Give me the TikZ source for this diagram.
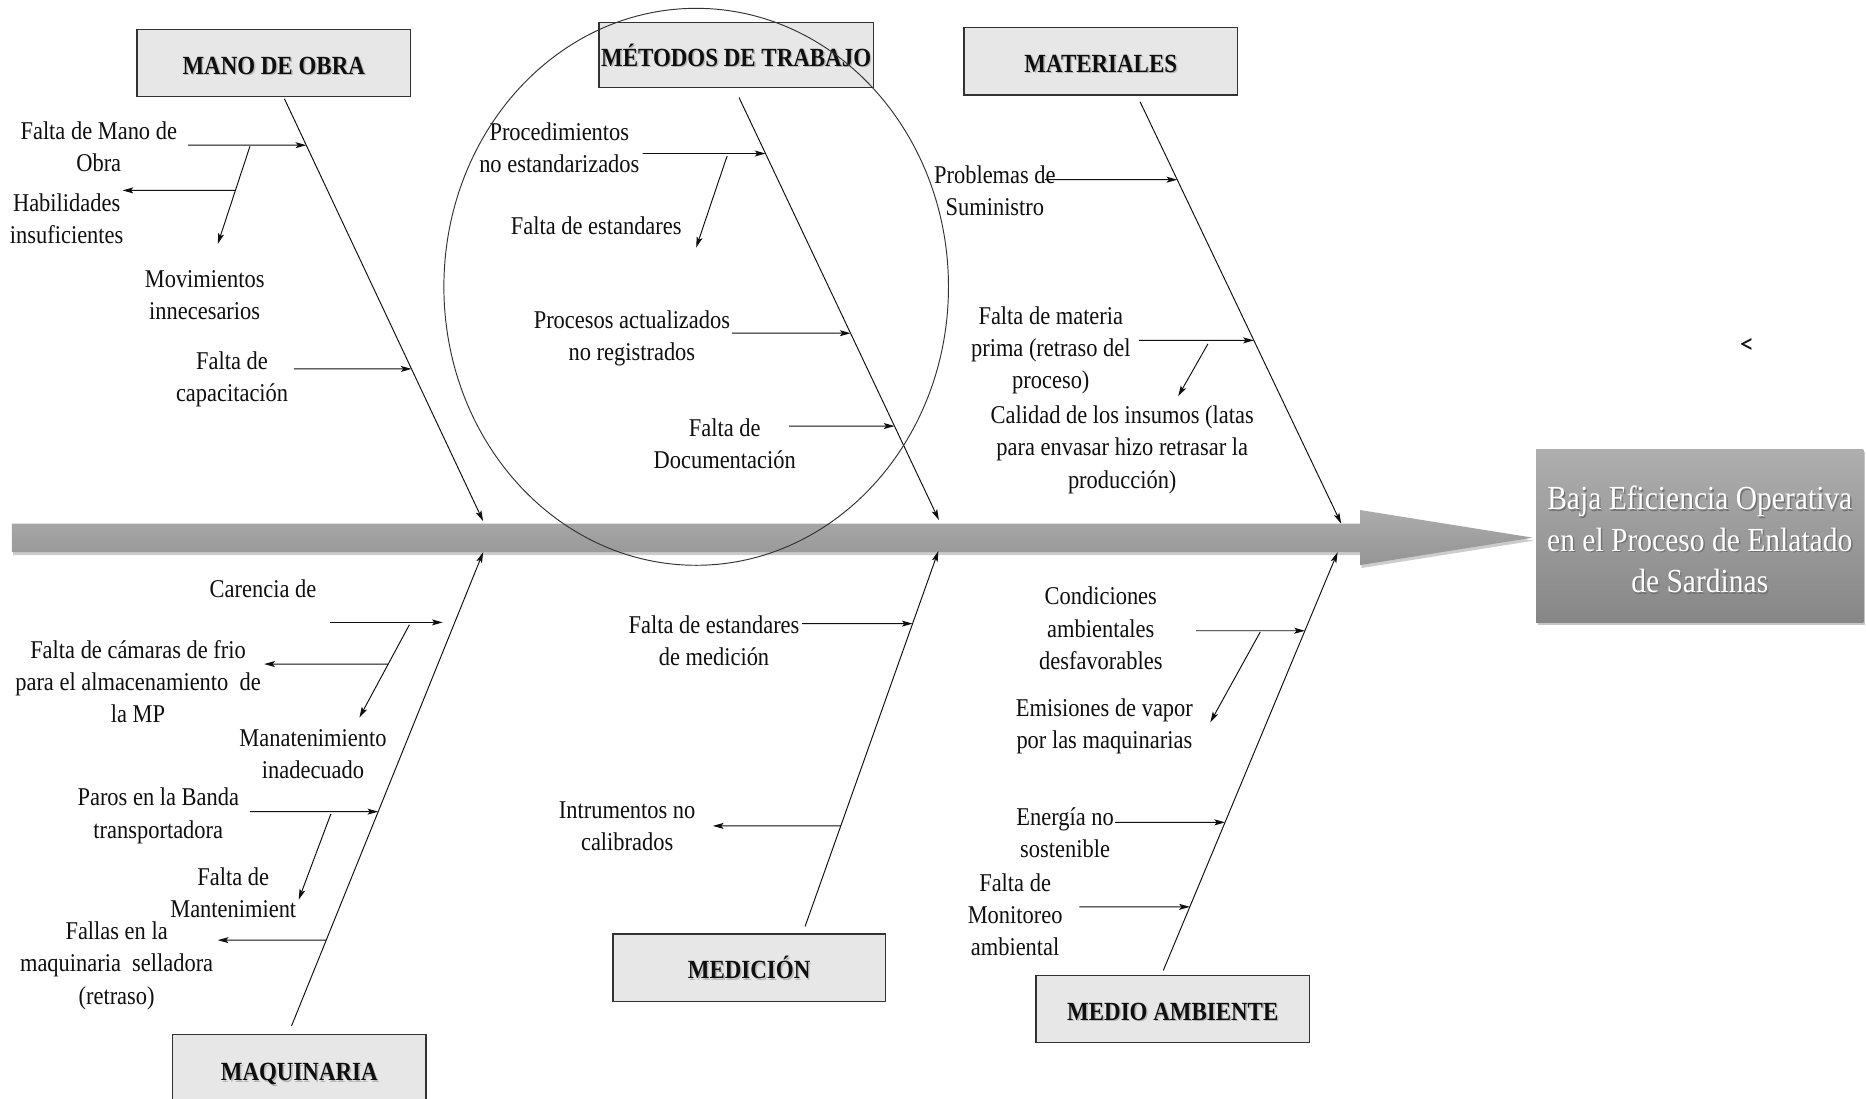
\documentclass[tikz,border=0pt]{standalone}
\usepackage{fontspec}
\setmainfont{Liberation Serif}[FakeStretch=0.877]
\newfontfamily\markfont{Carlito}
\usetikzlibrary{arrows.meta,shadows}

\definecolor{boxgray}{RGB}{231,231,231}
\definecolor{boxedge}{RGB}{50,50,50}
\definecolor{spinetop}{RGB}{172,172,172}
\definecolor{spinebot}{RGB}{148,148,148}
\definecolor{efftop}{RGB}{174,174,174}
\definecolor{effbot}{RGB}{134,134,134}
\definecolor{ink}{RGB}{15,15,15}

% text with a soft offset shadow behind it
\newcommand{\shd}[2]{\leavevmode\rlap{\hspace{1.2pt}\raisebox{-1.2pt}{\textcolor{#1}{#2}}}#2}
% category caption
\newcommand{\headtxt}[1]{\shd{black!28}{#1}}

\begin{document}
\begin{tikzpicture}[x=1pt,y=-1pt,
  cause/.style={draw=boxedge, line width=1.1pt, fill=boxgray, inner sep=0pt,
    minimum width=230pt, minimum height=56pt, text height=18.6pt, text depth=0pt,
    font=\fontsize{22}{26}\selectfont\bfseries, text=ink},
  effect/.style={shading=axis, top color=efftop, bottom color=effbot,
    inner sep=0pt, minimum width=275pt, minimum height=145pt,
    drop shadow={shadow xshift=1.5pt, shadow yshift=-2pt, opacity=0.45}},
  efftext/.style={align=center, inner sep=0pt, text=white,
    font=\fontsize{28.3}{35}\selectfont},
  lbl/.style={align=center, inner sep=0pt, text=ink, yshift=-2pt,
    font=\fontsize{21.5}{27}\selectfont},
  bone/.style={draw=ink, line width=0.8pt,
    -{Stealth[length=9pt,width=5pt,inset=2pt]}},
  twig/.style={bone},
  ring/.style={draw=ink!85, line width=0.8pt},
]
\useasboundingbox[fill=white] (0,0) rectangle (1568,923);

% main spine arrow
\path[shading=axis, top color=spinetop, bottom color=spinebot,
  drop shadow={shadow xshift=1pt, shadow yshift=-2.5pt, opacity=0.4}]
  (10,440) -- (1143,440) -- (1143,428.6) -- (1288,451.8)
  -- (1143,474.8) -- (1143,464) -- (10,464) -- cycle;

% effect box and its caption
\node[effect] (efecto) at (1428.3,450.6) {};
\node[efftext] (efectoTxt) at (1428.3,454)
  {\shd{black!55}{Baja Eficiencia Operativa}\\
   \shd{black!55}{en el Proceso de Enlatado}\\
   \shd{black!55}{de Sardinas}};

% category boxes
\node[cause] (mano) at (230,53) {\headtxt{MANO DE OBRA}};
\node[cause, minimum width=230.5pt, minimum height=54.6pt] (metodos) at (618.6,46.4)
  {\headtxt{MÉTODOS DE TRABAJO}};
\node[cause, minimum height=56.7pt] (materiales) at (925,51.5) {\headtxt{MATERIALES}};
\node[cause, minimum width=213pt, minimum height=60pt] (maquinaria) at (251.5,899)
  {\headtxt{MAQUINARIA}};
\node[cause, minimum width=229pt, minimum height=56.7pt] (medicion) at (629.5,813.3)
  {\headtxt{MEDICIÓN}};
\node[cause, minimum height=56.3pt] (medio) at (985.5,848)
  {\headtxt{MEDIO AMBIENTE}};

% bones
\coordinate (moA) at (239,83);      \coordinate (moB) at (406,438);
\coordinate (mtA) at (621,82);      \coordinate (mtB) at (789,437);
\coordinate (maA) at (958,85.5);    \coordinate (maB) at (1127,440);
\coordinate (mqA) at (245,862);     \coordinate (mqB) at (406,464);
\coordinate (meA) at (676.5,778.5); \coordinate (meB) at (788.5,463);
\coordinate (amA) at (977.5,815.5); \coordinate (amB) at (1124,464);
\foreach \a/\b in {moA/moB, mtA/mtB, maA/maB, mqA/mqB, meA/meB, amA/amB}
  \draw[bone] (\a) -- (\b);

% ---- Mano de obra
\coordinate (fmoS) at (158,122);
\coordinate (fmoE) at (intersection of moA--moB and 0,122--1,122);
\coordinate (movS) at (210,123);
\coordinate (movE) at (183,205);
\coordinate (habS) at (intersection of movS--movE and 0,160--1,160);
\coordinate (habE) at (103,160);
\coordinate (capS) at (247,310);
\coordinate (capE) at (intersection of moA--moB and 0,310--1,310);
\draw[twig] (fmoS) -- (fmoE);
\draw[twig] (movS) -- (movE);
\draw[twig] (habS) -- (habE);
\draw[twig] (capS) -- (capE);
\node[lbl] (tFmo) at (83,121.5) {Falta de Mano de\\Obra};
\node[lbl] (tHab) at (56,181.5) {Habilidades\\insuficientes};
\node[lbl] (tMov) at (172,246) {Movimientos\\innecesarios};
\node[lbl] (tCap) at (195,317) {Falta de\\capacitación};

% ---- Métodos de trabajo
\coordinate (proS) at (540,129);
\coordinate (proE) at (intersection of mtA--mtB and 0,129--1,129);
\coordinate (fesS) at (611,131);
\coordinate (fesE) at (585,208);
\coordinate (pacS) at (615,280);
\coordinate (pacE) at (intersection of mtA--mtB and 0,280--1,280);
\coordinate (docS) at (663,358);
\coordinate (docE) at (intersection of mtA--mtB and 0,358--1,358);
\draw[twig] (proS) -- (proE);
\draw[twig] (fesS) -- (fesE);
\draw[twig] (pacS) -- (pacE);
\draw[twig] (docS) -- (docE);
\node[lbl] (tPro) at (470,122.5) {Procedimientos\\no estandarizados};
\node[lbl] (tFes) at (501,188) {Falta de estandares};
\node[lbl] (tPac) at (531,282.5) {Procesos actualizados\\no registrados};
\node[lbl] (tDoc) at (609,371) {Falta de\\Documentación};

% ---- Materiales
\coordinate (supS) at (878,151);
\coordinate (supE) at (intersection of maA--maB and 0,151--1,151);
\coordinate (mprS) at (957,286);
\coordinate (mprE) at (intersection of maA--maB and 0,286--1,286);
\coordinate (calS) at (1015,289);
\coordinate (calE) at (990,333);
\draw[twig] (supS) -- (supE);
\draw[twig] (mprS) -- (mprE);
\draw[twig] (calS) -- (calE);
\node[lbl] (tSup) at (836,158) {Problemas de\\Suministro};
\node[lbl] (tMpr) at (883,292.5) {Falta de materia\\prima (retraso del\\proceso)};
\node[lbl] (tCal) at (943,376) {Calidad de los insumos (latas\\para envasar hizo retrasar la\\producción)};
\node[inner sep=0pt, text=ink, font=\markfont\fontsize{24}{26}\selectfont] (marca) at (1468,291) {<};

% ---- Maquinaria
\coordinate (carS) at (277,523);
\coordinate (carE) at (372,523);
\coordinate (mntS) at (344,525);
\coordinate (mntE) at (302,603);
\coordinate (camS) at (intersection of mntS--mntE and 0,558--1,558);
\coordinate (camE) at (222,558);
\coordinate (parS) at (210,682);
\coordinate (parE) at (intersection of mqA--mqB and 0,682--1,682);
\coordinate (fmtS) at (278,684);
\coordinate (fmtE) at (251,756);
\coordinate (falS) at (intersection of mqA--mqB and 0,790--1,790);
\coordinate (falE) at (183,790);
\draw[twig] (carS) -- (carE);
\draw[twig] (mntS) -- (mntE);
\draw[twig] (camS) -- (camE);
\draw[twig] (parS) -- (parE);
\draw[twig] (fmtS) -- (fmtE);
\draw[twig] (falS) -- (falE);
\node[lbl] (tCar) at (221,493) {Carencia de};
\node[lbl] (tCam) at (116,571) {Falta de cámaras de frio\\para el almacenamiento\ \ de\\la MP};
\node[lbl] (tMnt) at (263,631.5) {Manatenimiento\\inadecuado};
\node[lbl] (tPar) at (133,683.5) {Paros en la Banda\\transportadora};
\node[lbl] (tFmt) at (196,748.5) {Falta de\\Mantenimient};
\node[lbl] (tFal) at (98,809.5) {Fallas en la\\maquinaria\ \ selladora\\(retraso)};

% ---- Medición
\coordinate (femS) at (674,524);
\coordinate (femE) at (intersection of meA--meB and 0,524--1,524);
\coordinate (insS) at (intersection of meA--meB and 0,694--1,694);
\coordinate (insE) at (599,694);
\draw[twig] (femS) -- (femE);
\draw[twig] (insS) -- (insE);
\node[lbl] (tFem) at (600,536.5) {Falta de estandares\\de medición};
\node[lbl] (tIns) at (527,692) {Intrumentos no\\calibrados};

% ---- Medio ambiente
\coordinate (conS) at (1005,530);
\coordinate (conE) at (intersection of amA--amB and 0,530--1,530);
\coordinate (emiS) at (1059,531);
\coordinate (emiE) at (1017,607);
\coordinate (eneS) at (937,691);
\coordinate (eneE) at (intersection of amA--amB and 0,691--1,691);
\coordinate (monS) at (907,762);
\coordinate (monE) at (intersection of amA--amB and 0,762--1,762);
\draw[twig] (conS) -- (conE);
\draw[twig] (emiS) -- (emiE);
\draw[twig] (eneS) -- (eneE);
\draw[twig] (monS) -- (monE);
\node[lbl] (tCon) at (925,526) {Condiciones\\ambientales\\desfavorables};
\node[lbl] (tEmi) at (928,608.5) {Emisiones de vapor\\por las maquinarias};
\node[lbl] (tEne) at (895,698) {Energía no\\sostenible};
\node[lbl] (tMon) at (853,766.5) {Falta de\\Monitoreo\\ambiental};

% highlight ring round the work-method branch
\draw[ring] (585,241) ellipse [x radius=212, y radius=234];
\end{tikzpicture}
\end{document}
